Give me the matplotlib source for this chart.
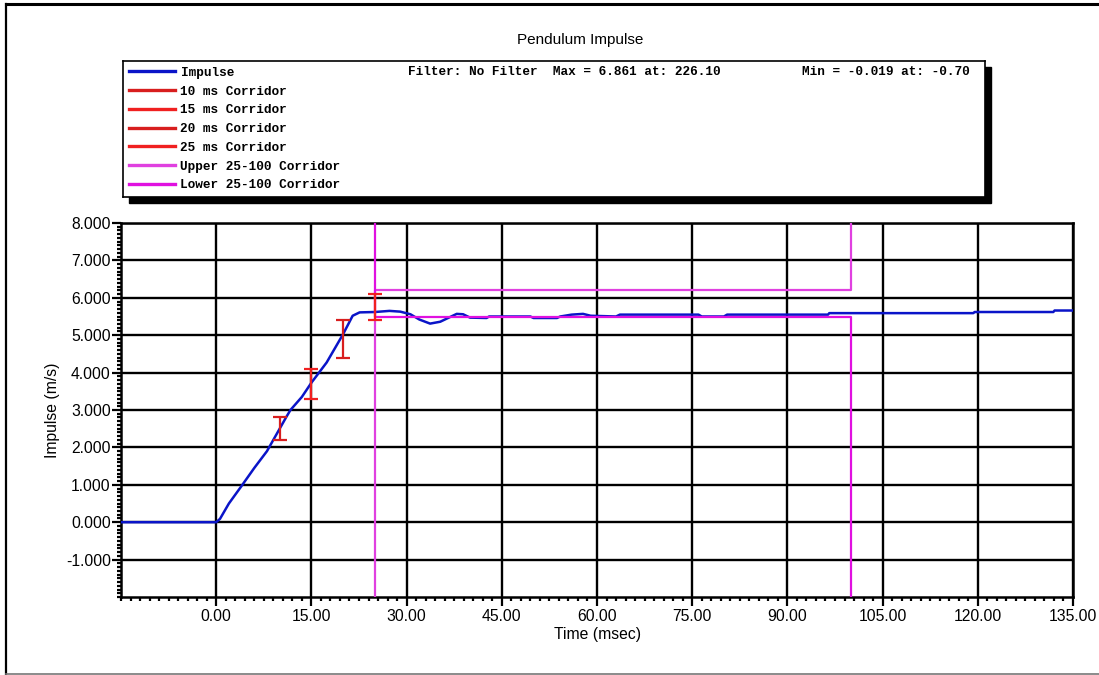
import matplotlib
matplotlib.use('Agg')
import matplotlib.pyplot as plt
import numpy as np
from matplotlib.lines import Line2D
from matplotlib.patches import Rectangle

plt.rcParams['font.family'] = ['Liberation Sans', 'DejaVu Sans']

# impulse trace (ms, m/s)
time_ms = [-15, 0, 0.6, 2, 4, 6, 8, 9, 10, 11, 11.7, 13.5, 15, 17.4, 20, 21.5, 22.6,
           25, 27.3, 29, 30.6, 32, 33.7, 35.3, 36.9, 37.9, 38.9, 40, 42.6, 43, 49.5,
           50, 53.7, 54.2, 56, 57.8, 59, 63, 63.6, 76, 76.5, 80, 80.5, 96.4, 96.6,
           119.3, 119.5, 131.9, 132.1, 135]
impulse = [0, 0, 0.09, 0.5, 0.97, 1.45, 1.9, 2.2, 2.5, 2.8, 3.0, 3.35, 3.73, 4.27, 5.03, 5.52, 5.61,
           5.62, 5.65, 5.63, 5.56, 5.42, 5.31, 5.36, 5.49, 5.57, 5.56, 5.47, 5.46, 5.5, 5.5,
           5.46, 5.46, 5.5, 5.55, 5.57, 5.52, 5.5, 5.55, 5.55, 5.5, 5.5, 5.55, 5.55, 5.59,
           5.59, 5.62, 5.62, 5.66, 5.66]

# point corridors
corr_t = [10, 15, 20, 25]
corr_lo = [2.2, 3.3, 4.4, 5.4]
corr_hi = [2.8, 4.1, 5.4, 6.1]
corr_names = ['10 ms Corridor', '15 ms Corridor', '20 ms Corridor', '25 ms Corridor']
corr_colors = ['#d81e1e', '#f02020', '#d81e1e', '#f02020']

# 25-100 ms corridor
band_t = [25, 25, 100, 100]
upper_band = [-20, 6.2, 6.2, 20]
lower_band = [20, 5.5, 5.5, -20]

x_ticks = np.arange(0, 136, 15)
y_ticks = np.arange(-1, 9, 1)

fig = plt.figure(figsize=(10.99, 6.75), dpi=100)
ax = fig.add_axes([121/1099, 1-597/675, 952/1099, 374/675])

ax.plot(time_ms, impulse, color='#0a14c8', lw=1.8, zorder=3, label='Impulse')
for t, lo, hi, c, n in zip(corr_t, corr_lo, corr_hi, corr_colors, corr_names):
    ax.errorbar([t], [(lo + hi) / 2], yerr=[(hi - lo) / 2], fmt='none', ecolor=c,
                elinewidth=1.6, capsize=4.8, capthick=1.6, zorder=5, label=n)
ax.plot(band_t, upper_band, color='#e040e0', lw=1.6, zorder=4, label='Upper 25-100 Corridor')
ax.plot(band_t, lower_band, color='#e010e0', lw=1.6, zorder=4, label='Lower 25-100 Corridor')

ax.set_xlim(-15, 135)
ax.set_ylim(-2, 8)
ax.set_xticks(x_ticks)
ax.set_xticklabels(['%.2f' % v for v in x_ticks])
ax.set_yticks(y_ticks)
ax.set_yticklabels(['%.3f' % v for v in y_ticks])
ax.set_xticks(np.arange(-15, 135.1, 1.5), minor=True)
ax.set_yticks(np.arange(-2, 8.01, 0.1), minor=True)
ax.tick_params(which='major', length=6.5, width=1.6, labelsize=11.3, color='black')
ax.tick_params(axis='y', which='major', pad=0.8)
ax.tick_params(axis='x', which='major', pad=2)
ax.tick_params(which='minor', length=3, width=1.6)
ax.grid(True, which='major', color='black', lw=1.7)
for s in ax.spines.values():
    s.set_linewidth(1.8)

ax.set_xlabel('Time (msec)', fontsize=11.3, labelpad=2)
ax.set_ylabel('Impulse (m/s)', fontsize=11.3, labelpad=4)

fig.text(0.528, 1 - 40/675, 'Pendulum Impulse', ha='center', va='center', fontsize=11)

# legend box with drop shadow
bx, by, bw, bh = 123/1099, 1 - 197/675, 862/1099, 136/675
fig.add_artist(Rectangle((bx + 6/1099, by - 6/675), bw, bh, transform=fig.transFigure,
                         facecolor='black', edgecolor='black', zorder=1))
lax = fig.add_axes([bx, by, bw, bh], zorder=2)
lax.set_xticks([])
lax.set_yticks([])
for s in lax.spines.values():
    s.set_linewidth(1.2)

mono = {'family': 'Liberation Mono', 'weight': 'bold', 'size': 9.2}
handles = [Line2D([], [], color='#0a14c8', lw=2.4)]
handles += [Line2D([], [], color=c, lw=2.4) for c in corr_colors]
handles += [Line2D([], [], color='#e040e0', lw=2.4), Line2D([], [], color='#e010e0', lw=2.4)]
labels = ['Impulse'] + corr_names + ['Upper 25-100 Corridor', 'Lower 25-100 Corridor']
lax.legend(handles, labels, loc='upper left', frameon=False, handlelength=3.6,
           handletextpad=0.45, labelspacing=0.53, borderaxespad=0, borderpad=0.45,
           prop=mono)
lax.text((408 - 123) / 862, 1 - 11/136, 'Filter: No Filter  Max = 6.861 at: 226.10',
         transform=lax.transAxes, va='center', ha='left', fontdict=mono)
lax.text((802 - 123) / 862, 1 - 11/136, 'Min = -0.019 at: -0.70',
         transform=lax.transAxes, va='center', ha='left', fontdict=mono)

# page border
fig.add_artist(Line2D([6/1099, 6/1099], [1 - 4/675, 1 - 674/675], color='black', lw=1.6,
                      transform=fig.transFigure))
fig.add_artist(Line2D([6/1099, 1], [1 - 4/675, 1 - 4/675], color='black', lw=2.2,
                      transform=fig.transFigure))
fig.add_artist(Line2D([6/1099, 1], [1 - 674/675, 1 - 674/675], color='#777777', lw=1.2,
                      transform=fig.transFigure))

fig.savefig('out.png', dpi=100)
